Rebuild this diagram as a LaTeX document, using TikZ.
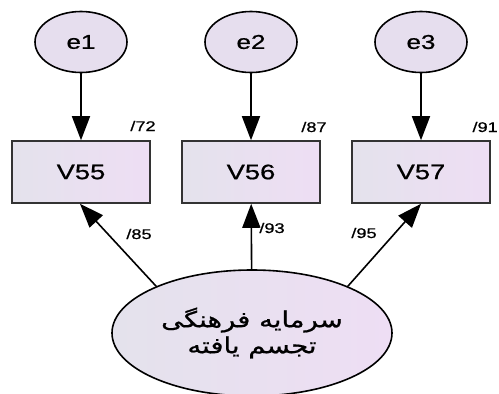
\documentclass[tikz,border=0pt]{standalone}
\usepackage{fontspec}
\setmainfont{Liberation Sans}
\newfontfamily\amos[FakeStretch=1.3,FakeBold=0.8]{Liberation Sans}
\newfontfamily\arabicfont[Script=Arabic,FakeStretch=1.25,FakeBold=0.8]{DejaVu Sans}
\TeXXeTstate=1
\usetikzlibrary{shapes.geometric,arrows.meta}
\definecolor{lavA}{RGB}{228,226,236}
\definecolor{lavB}{RGB}{238,222,244}
\definecolor{lavE}{RGB}{230,222,238}
\begin{document}
\begin{tikzpicture}[x=1pt,y=-1pt,
  errnode/.style={ellipse, draw=black, line width=1.6pt, minimum width=92pt, minimum height=61pt, inner sep=0pt, fill=lavE, font=\amos\fontsize{20}{20}\selectfont},
  obsbox/.style={rectangle, draw=black!80, line width=1.6pt, minimum width=138pt, minimum height=62pt, inner sep=0pt, left color=lavA, right color=lavB, font=\amos\fontsize{21}{21}\selectfont},
  latent/.style={ellipse, draw=black, line width=1.6pt, minimum width=280pt, minimum height=126pt, inner sep=0pt, left color=lavA, right color=lavB, align=center, font=\arabicfont\fontsize{22}{26}\selectfont},
  regpath/.style={line width=1.6pt, -{Triangle[length=24pt,width=18pt]}},
  coef/.style={font=\amos\fontsize{14}{14}\selectfont, inner sep=0pt}
]
\useasboundingbox (0,0) rectangle (499,394);
\node[errnode] (e1) at (81,42) {e1};
\node[errnode] (e2) at (251,42) {e2};
\node[errnode] (e3) at (421,42) {e3};
\node[obsbox] (v55) at (81,172) {V55};
\node[obsbox] (v56) at (251,172) {V56};
\node[obsbox] (v57) at (421,172) {V57};
\node[latent] (f) at (252,333) {\beginR سرمایه فرهنگی\endR\\\beginR تجسم یافته\endR};
\draw[regpath] (e1) -- (v55);
\draw[regpath] (e2) -- (v56);
\draw[regpath] (e3) -- (v57);
\coordinate (fl) at (f.154);
\coordinate (fr) at (f.26);
\coordinate (v55t) at ([xshift=-1pt]v55.south);
\draw[regpath] (fl) -- (v55t);
\draw[regpath] (f) -- (v56);
\draw[regpath] (fr) -- (v57.south);
\node[coef] (c72) at (143,126) {/72};
\node[coef] (c87) at (314,127) {/87};
\node[coef, anchor=east] (c91) at (498,127) {/91};
\node[coef] (c85) at (139,234) {/85};
\node[coef] (c93) at (272,228) {/93};
\node[coef] (c95) at (364,233) {/95};
\end{tikzpicture}
\end{document}
